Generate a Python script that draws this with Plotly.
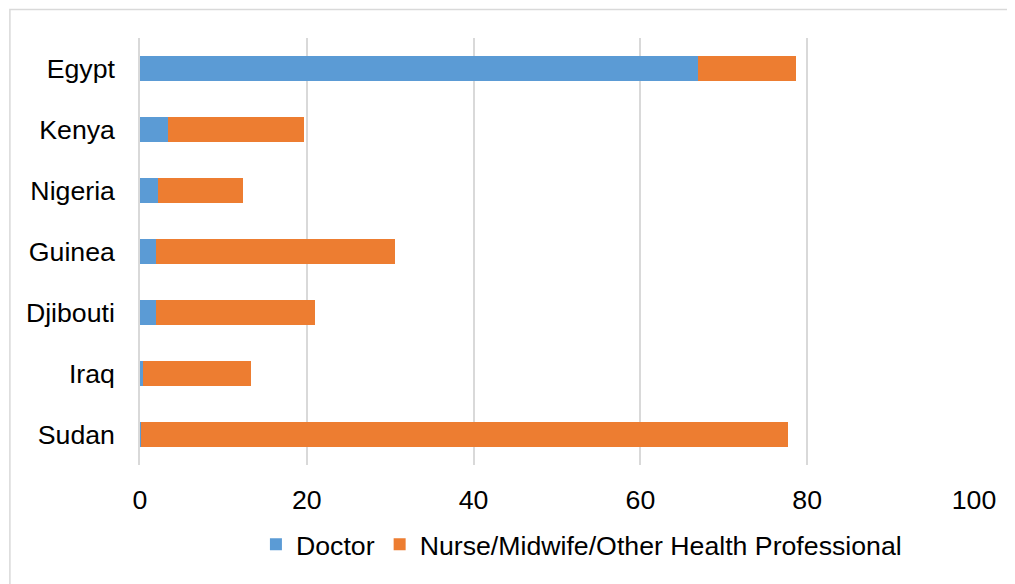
import plotly.graph_objects as go

countries = ["Egypt", "Kenya", "Nigeria", "Guinea", "Djibouti", "Iraq", "Sudan"]
doctor = [66.9, 3.4, 2.2, 1.9, 1.9, 0.3, 0.1]
nurse = [11.7, 16.3, 10.1, 28.7, 19.1, 13.0, 77.6]
x_ticks = [0, 20, 40, 60, 80, 100]

fig = go.Figure()
fig.add_trace(go.Bar(y=countries, x=doctor, orientation="h", name="Doctor",
                     marker=dict(color="#5B9BD5", line=dict(width=0))))
fig.add_trace(go.Bar(y=countries, x=nurse, orientation="h",
                     name="Nurse/Midwife/Other Health Professional",
                     marker=dict(color="#ED7D31", line=dict(width=0))))

fs = 26.7
fig.update_layout(
    barmode="stack",
    bargap=0.6,
    width=1007, height=576,
    margin=dict(l=132, r=41, t=30, b=118.5),
    paper_bgcolor="white", plot_bgcolor="white",
    font=dict(family="Liberation Sans, Arial, sans-serif", size=fs, color="#000000"),
    xaxis=dict(range=[0, 100], tickvals=x_ticks, showgrid=True, gridcolor="#D9D9D9",
               gridwidth=1.5, zeroline=False, showline=False, ticks="",
               tickfont=dict(size=fs), ticklabelstandoff=16),
    yaxis=dict(categoryorder="array", categoryarray=countries[::-1],
               showline=True, linecolor="#D9D9D9", linewidth=1.5,
               ticks="", tickfont=dict(size=fs), ticklabelstandoff=18),
    legend=dict(orientation="h", x=0.139, xanchor="left", y=-0.186, yanchor="middle",
                font=dict(size=fs), traceorder="normal", itemwidth=30),
    showlegend=True,
    shapes=[dict(type="rect", xref="paper", yref="paper",
                 x0=-0.156, x1=1.2, y0=-0.5, y1=1.067,
                 line=dict(color="#D9D9D9", width=1.5), fillcolor="rgba(0,0,0,0)",
                 layer="below")],
)

fig.write_html("out.html")
